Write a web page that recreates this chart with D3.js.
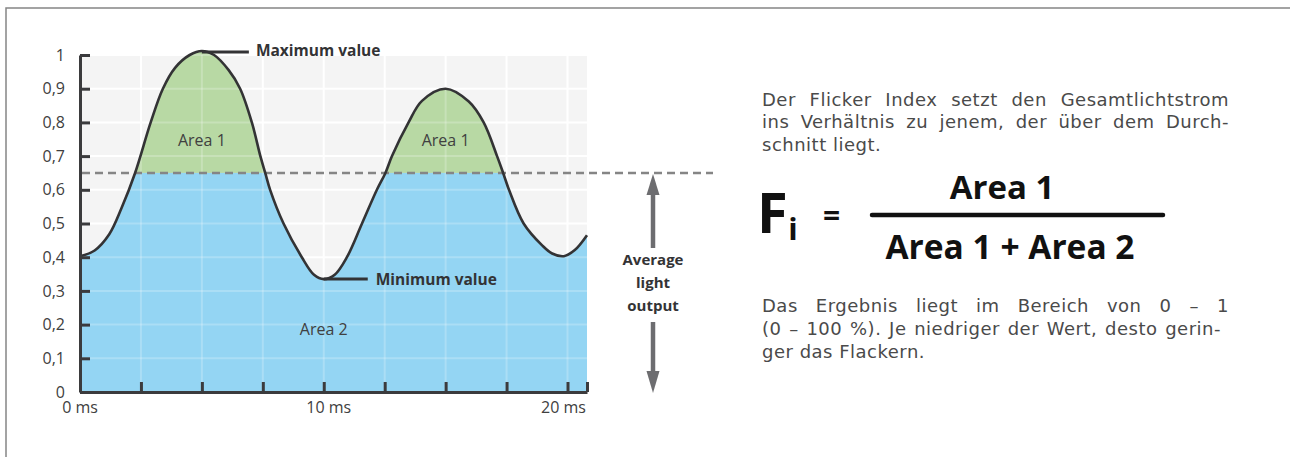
<!DOCTYPE html>
<html>
<head>
<meta charset="utf-8">
<script src="https://cdn.jsdelivr.net/npm/d3@7"></script>
<style>
  html, body { margin: 0; padding: 0; background: #fff; }
  svg { display: block; }
  text { font-family: "Open Sans", "Noto Sans", sans-serif; }
</style>
</head>
<body>
<svg id="chart" width="1290" height="457"></svg>
<script>
// ---------------- data ----------------
const timeMs = [0, 0.6, 1.2, 1.7, 2.26, 2.9, 3.4, 3.9, 4.5, 5.0, 5.5, 6.1, 6.57, 7.05, 7.4, 7.6, 7.8, 8.35, 9.1, 9.6, 10.0, 10.45, 10.95, 11.57, 12.18, 12.53, 12.8, 13.48, 14.03, 15.0, 15.95, 16.56, 17.11, 17.36, 17.6, 18.2, 18.96, 19.37, 19.85, 20.3, 20.8];
const lightOutput = [0.403, 0.42, 0.468, 0.545, 0.65, 0.8, 0.9, 0.962, 1.0, 1.012, 1.0, 0.955, 0.9, 0.8, 0.7, 0.65, 0.6, 0.5, 0.4, 0.348, 0.335, 0.348, 0.4, 0.5, 0.6, 0.65, 0.7, 0.8, 0.864, 0.9, 0.862, 0.8, 0.7, 0.65, 0.6, 0.5, 0.435, 0.411, 0.403, 0.421, 0.465];
const averageLevel = 0.65;
const yTicks = [0, 0.1, 0.2, 0.3, 0.4, 0.5, 0.6, 0.7, 0.8, 0.9, 1];
const yTickLabels = ["0", "0,1", "0,2", "0,3", "0,4", "0,5", "0,6", "0,7", "0,8", "0,9", "1"];
const xTicks = [0, 2.5, 5, 7.5, 10, 12.5, 15, 17.5, 20, 20.8];
const xLabelTimes = [0, 10, 20];
const xLabelTexts = ["0 ms", "10 ms", "20 ms"];
const areaLabels = ["Area 1", "Area 1", "Area 2"];
const areaLabelTimes = [5, 15, 10];
const areaLabelValues = [0.73, 0.73, 0.17];
const maxLabel = "Maximum value";
const minLabel = "Minimum value";
const avgLabelLines = ["Average", "light", "output"];
const para1 = ["Der Flicker Index setzt den Gesamtlichtstrom", "ins Verhältnis zu jenem, der über dem Durch-", "schnitt liegt."];
const para2 = ["Das Ergebnis liegt im Bereich von 0 – 1", "(0 – 100 %). Je niedriger der Wert, desto gerin-", "ger das Flackern."];
const formulaLeft = "F";
const formulaSub = "i";
const numeratorText = "Area 1";
const denominatorText = "Area 1 + Area 2";

// ---------------- setup ----------------
const svg = d3.select("#chart");
const x = d3.scaleLinear().domain([0, 20.8]).range([80, 587]);
const y = d3.scaleLinear().domain([0, 1]).range([392, 55]);
const data = timeMs.map((t, i) => ({ t, v: lightOutput[i] }));

const textColor = "#404040";
const axisColor = "#3b3b3d";

// frame
svg.append("path").attr("d", "M6,457V8H1290").attr("fill", "none")
  .attr("stroke", "#858585").attr("stroke-width", 1.5);

// plot background
svg.append("rect").attr("x", x(0)).attr("y", y(1)).attr("width", x(20.8) - x(0)).attr("height", y(0) - y(1))
  .attr("fill", "#f4f4f4");

function drawGrid(g, opacity) {
  g.selectAll("line.h").data(yTicks.slice(1)).join("line").attr("class", "h")
    .attr("x1", x(0)).attr("x2", x(20.8)).attr("y1", d => y(d)).attr("y2", d => y(d))
    .attr("stroke", "#fff").attr("stroke-width", 2).attr("stroke-opacity", opacity);
  g.selectAll("line.v").data(xTicks.slice(1, -1)).join("line").attr("class", "v")
    .attr("y1", y(1)).attr("y2", y(0)).attr("x1", d => x(d)).attr("x2", d => x(d))
    .attr("stroke", "#fff").attr("stroke-width", 2).attr("stroke-opacity", opacity);
}
drawGrid(svg.append("g"), 1);

// area fill
const curve = d3.curveCatmullRom.alpha(0.5);
const area = d3.area().x(d => x(d.t)).y0(y(0)).y1(d => y(d.v)).curve(curve);
const line = d3.line().x(d => x(d.t)).y(d => y(d.v)).curve(curve);
svg.append("clipPath").attr("id", "under").append("path").attr("d", area(data));
const fillG = svg.append("g").attr("clip-path", "url(#under)");
fillG.append("rect").attr("x", x(0)).attr("y", y(1.1)).attr("width", x(20.8) - x(0)).attr("height", y(averageLevel) - y(1.1))
  .attr("fill", "#b8d9a4");
fillG.append("rect").attr("x", x(0)).attr("y", y(averageLevel)).attr("width", x(20.8) - x(0)).attr("height", y(0) - y(averageLevel))
  .attr("fill", "#94d5f3");
drawGrid(fillG.append("g"), 0.22);

// average dashed line
svg.append("line").attr("x1", x(0) + 2).attr("x2", 713).attr("y1", y(averageLevel)).attr("y2", y(averageLevel))
  .attr("stroke", "#858585").attr("stroke-width", 2.5).attr("stroke-dasharray", "8,5");

// curve
svg.append("path").attr("d", line(data)).attr("fill", "none").attr("stroke", "#333335").attr("stroke-width", 2.6);

// axes
const yAxis = d3.axisLeft(y).tickValues(yTicks).tickSizeInner(-10).tickSizeOuter(0).tickPadding(15)
  .tickFormat((d, i) => yTickLabels[i]);
const gy = svg.append("g").attr("transform", `translate(${x(0)},0)`).call(yAxis);
const xAxis = d3.axisBottom(x).tickValues(xTicks).tickSizeInner(-10).tickSizeOuter(0).tickFormat("");
const gx = svg.append("g").attr("transform", `translate(0,${y(0)})`).call(xAxis);
[gy, gx].forEach(g => {
  g.select(".domain").attr("stroke", axisColor).attr("stroke-width", 3);
  g.selectAll(".tick line").attr("stroke", axisColor).attr("stroke-width", 3);
});
gy.selectAll(".tick text").attr("fill", textColor).style("font-size", "16px").style("font-family", "Open Sans");
const xLabelShift = [0, 5, -4];
svg.append("g").selectAll("text").data(xLabelTimes).join("text")
  .attr("x", (d, i) => x(d) + xLabelShift[i]).attr("y", y(0) + 21).attr("text-anchor", "middle")
  .attr("fill", textColor).style("font-size", "16px").text((d, i) => xLabelTexts[i]);

// area labels
svg.append("g").selectAll("text").data(areaLabels).join("text")
  .attr("x", (d, i) => x(areaLabelTimes[i])).attr("y", (d, i) => y(areaLabelValues[i]))
  .attr("text-anchor", "middle").attr("fill", textColor).style("font-size", "16px").text(d => d);

// max / min annotations
const maxIdx = d3.maxIndex(lightOutput);
const minIdx = d3.minIndex(lightOutput);
const maxP = data[maxIdx], minP = data[minIdx];
svg.append("line").attr("x1", x(maxP.t)).attr("x2", x(maxP.t) + 47).attr("y1", y(maxP.v) + 1).attr("y2", y(maxP.v) + 1)
  .attr("stroke", "#333335").attr("stroke-width", 3);
svg.append("text").attr("x", x(maxP.t) + 54).attr("y", y(maxP.v) + 5.5).attr("fill", "#333335")
  .style("font-size", "15.5px").style("font-weight", 700).text(maxLabel);
svg.append("line").attr("x1", x(minP.t)).attr("x2", x(minP.t) + 44).attr("y1", y(minP.v)).attr("y2", y(minP.v))
  .attr("stroke", "#333335").attr("stroke-width", 3);
svg.append("text").attr("x", x(minP.t) + 52).attr("y", y(minP.v) + 5.5).attr("fill", "#333335")
  .style("font-size", "15.5px").style("font-weight", 700).text(minLabel);

// average light output arrows
const ax = 653;
const arrowColor = "#6d6d70";
svg.append("line").attr("x1", ax).attr("x2", ax).attr("y1", y(averageLevel) + 18).attr("y2", 248)
  .attr("stroke", arrowColor).attr("stroke-width", 4.5);
svg.append("path").attr("d", `M${ax},${y(averageLevel) + 1}L${ax - 6.5},${y(averageLevel) + 22}L${ax + 6.5},${y(averageLevel) + 22}Z`).attr("fill", arrowColor);
svg.append("line").attr("x1", ax).attr("x2", ax).attr("y1", 322).attr("y2", y(0) - 18)
  .attr("stroke", arrowColor).attr("stroke-width", 4.5);
svg.append("path").attr("d", `M${ax},${y(0) + 1}L${ax - 6.5},${y(0) - 21}L${ax + 6.5},${y(0) - 21}Z`).attr("fill", arrowColor);
svg.append("g").selectAll("text").data(avgLabelLines).join("text")
  .attr("x", ax).attr("y", (d, i) => 265 + i * 23).attr("text-anchor", "middle").attr("fill", "#333335")
  .style("font-size", "15px").style("font-weight", 700).text(d => d);

// justified paragraph lines
const paraStyle = { family: "DejaVu Sans", size: "18px", spacing: "0.5px" };
function textLine(ln, baseline, rightEdge) {
  const g = svg.append("g").attr("fill", "#4a4a4a")
    .style("font-family", paraStyle.family)
    .style("font-size", paraStyle.size).style("letter-spacing", paraStyle.spacing);
  const words = ln.split(" ");
  const measure = s => {
    const t = g.append("text").style("font-family", paraStyle.family).text(s);
    const w = t.node().getComputedTextLength();
    t.remove();
    return w;
  };
  const widths = words.map(measure);
  const spaceW = measure("a a") - 2 * measure("a");
  const total = d3.sum(widths);
  const gap = rightEdge ? Math.max(4, (rightEdge - 762 - total) / (words.length - 1)) : spaceW;
  let cx = 762;
  words.forEach((w, wi) => {
    g.append("text").style("font-family", paraStyle.family).attr("x", cx).attr("y", baseline).text(w);
    cx += widths[wi] + gap;
  });
}
[[105.5, 1229], [128.3, 1229], [150.8, null]].forEach((p, i) => textLine(para1[i], p[0], p[1]));
[[312.3, 1229], [335, 1221], [357.7, null]].forEach((p, i) => textLine(para2[i], p[0], p[1]));

// formula
const fg = svg.append("g").attr("fill", "#111");
const fText = fg.append("text").attr("x", 757).attr("y", 233).style("font-size", "56px").style("font-weight", 700).text(formulaLeft);
const fLen = fText.node().getComputedTextLength();
fg.append("text").attr("x", 757 + fLen + 0.5).attr("y", 240).style("font-size", "31px").style("font-weight", 700).text(formulaSub);
fg.append("text").attr("x", 831.5).attr("y", 225.5).attr("text-anchor", "middle").style("font-size", "30px").style("font-weight", 700).text("=");
fg.append("line").attr("x1", 872).attr("x2", 1163).attr("y1", 215).attr("y2", 215).attr("stroke", "#111").attr("stroke-width", 4.5).attr("stroke-linecap", "round");
fg.append("text").attr("x", 1002).attr("y", 199).attr("text-anchor", "middle").style("font-size", "33px").style("font-weight", 700).text(numeratorText);
fg.append("text").attr("x", 1010).attr("y", 259).attr("text-anchor", "middle").style("font-size", "33.5px").style("font-weight", 700).text(denominatorText);
</script>
</body>
</html>
